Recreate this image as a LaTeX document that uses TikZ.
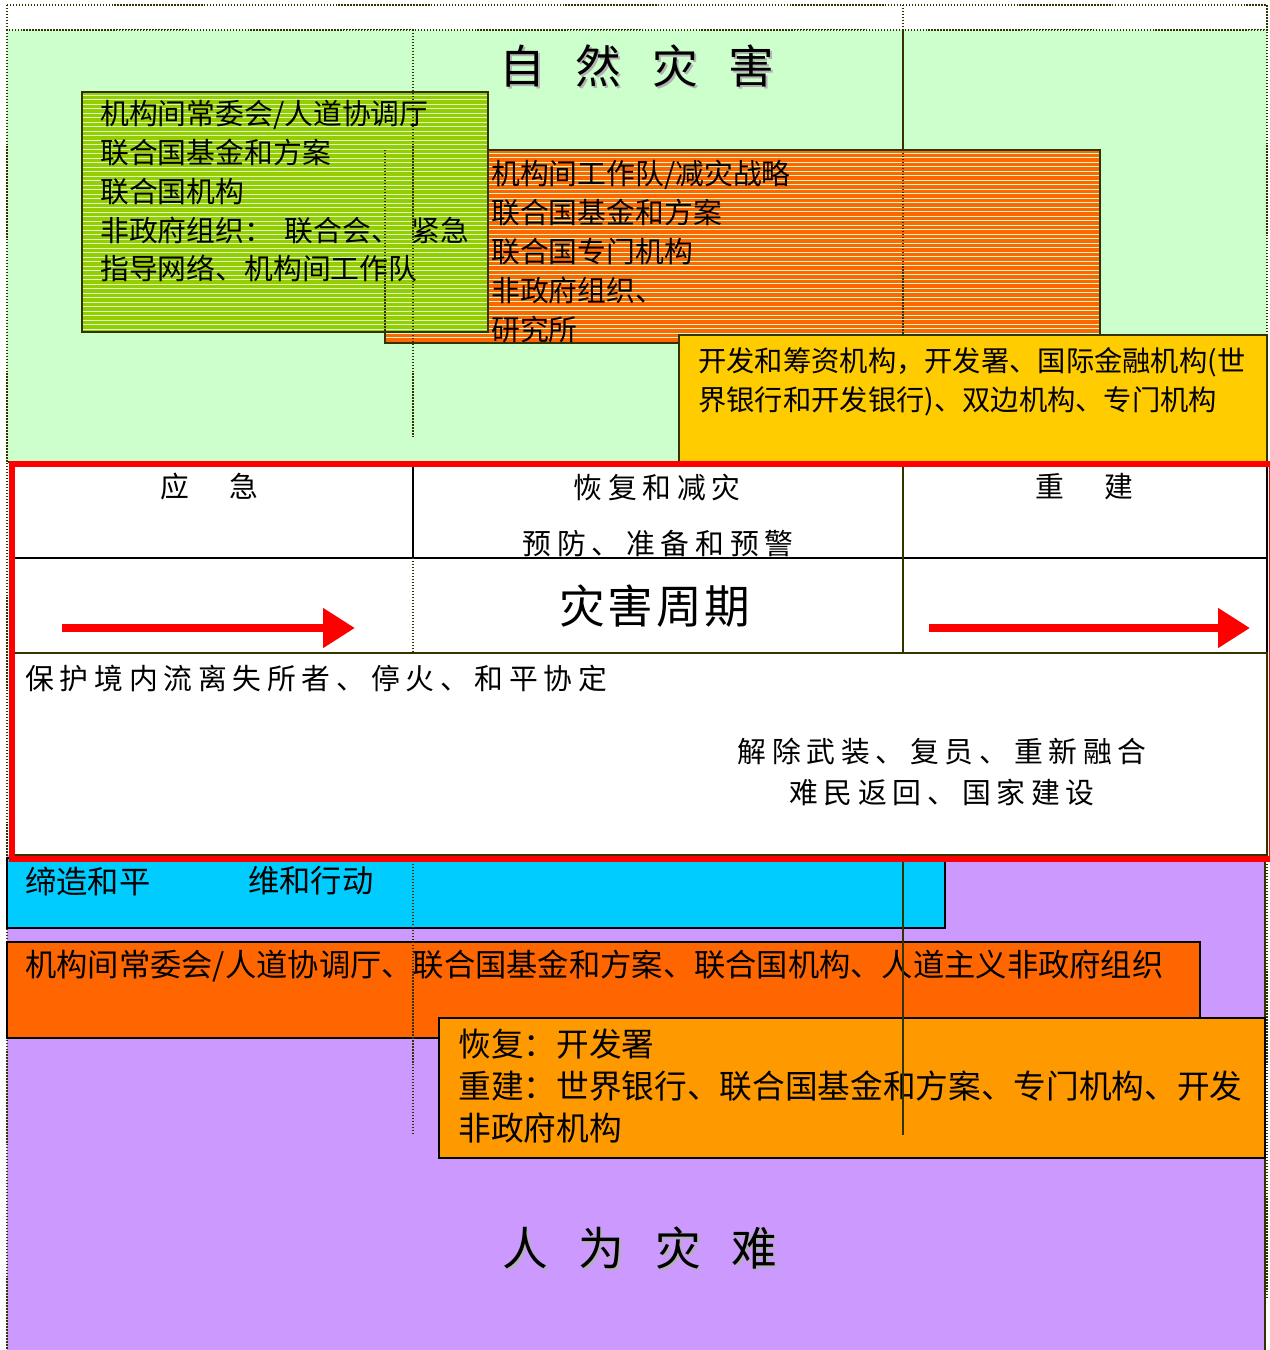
\documentclass[tikz,border=0pt]{standalone}
\usepackage{fontspec}
\setmainfont{Noto Sans CJK SC}
\newfontfamily\cjk{Noto Sans CJK SC}
\newfontfamily\cjkwide{Noto Sans CJK SC}[LetterSpace=20]
\newfontfamily\cjkmid{Noto Sans CJK SC}[LetterSpace=6]
\newfontfamily\cjktitle{Noto Sans CJK SC}[LetterSpace=45]
\usetikzlibrary{arrows.meta}

\definecolor{natgreen}{HTML}{CCFFCC}
\definecolor{limegreen}{HTML}{99CC00}
\definecolor{deeporange}{HTML}{FF6600}
\definecolor{goldyellow}{HTML}{FFCC00}
\definecolor{skycyan}{HTML}{00CCFF}
\definecolor{lilac}{HTML}{CC99FF}
\definecolor{amber}{HTML}{FF9900}
\definecolor{olive}{HTML}{333300}

\tikzset{
  dotline/.style={draw=olive, line width=0.7pt, dash pattern=on 0.8pt off 0.9pt},
  solidline/.style={draw=olive, line width=1pt},
  boxedge/.style={draw=olive, line width=1.2pt},
  stripe/.style={draw=natgreen, line width=0.5pt},
  txt/.style={inner sep=0pt, align=left, font=\cjk\fontsize{16.4}{22.1}\selectfont},
  bigtxt/.style={inner sep=0pt, align=left, font=\cjk\fontsize{17.8}{23.8}\selectfont},
  phase/.style={inner sep=0pt, font=\cjkwide\fontsize{16.4}{23.8}\selectfont},
  titletxt/.style={inner sep=0pt, font=\cjktitle\fontsize{26}{30}\selectfont},
  redarrow/.style={draw=red, line width=4.5pt, -{Triangle[length=6.4mm, width=7.6mm]}}
}

\begin{document}
\begin{tikzpicture}[x=0.02cm, y=-0.02cm]
\useasboundingbox (0,0) rectangle (1270,1350);

% fields
\draw[dotline] (7,5) rectangle (1267,30);
\fill[natgreen] (7,30) rectangle (1267,462);
\draw[dotline] (7,30) rectangle (1267,462);
\fill[lilac] (7,855) rectangle (1265,1350);
\draw[solidline] (1265,855) -- (1265,1350);
\draw[dotline] (7,30) -- (7,1350);
\draw[dotline] (1267,855) -- (1267,1300);
\draw[dotline] (903,5) -- (903,30);
\draw[solidline] (903,30) -- (903,150);

% natural disaster actors
\fill[deeporange] (385,150) rectangle (1100,343);
\foreach \y in {153,157.5,...,341}
  \draw[stripe] (386,\y) -- (1099,\y);
\draw[boxedge] (385,150) rectangle (1100,343);
\draw[dotline] (903,150) -- (903,343);

\fill[limegreen] (82,92) rectangle (488,332);
\foreach \y in {95,99.5,...,330}
  \draw[stripe] (83,\y) -- (487,\y);
\draw[boxedge] (82,92) rectangle (488,332);
\draw[dotline] (385,150) -- (385,332);
\draw[dotline] (413,30) -- (413,437);

\node[txt, anchor=north west] (iascNat) at (100,100)
  {机构间常委会/人道协调厅\\联合国基金和方案\\联合国机构\\非政府组织：\hspace{.4em}联合会、\hspace{.4em}紧急\\指导网络、机构间工作队};
\node[txt, anchor=north west] (isdr) at (491,160)
  {机构间工作队/减灾战略\\联合国基金和方案\\联合国专门机构\\非政府组织、\\研究所};

\filldraw[fill=goldyellow, boxedge] (679,335) rectangle (1267,462);
\node[txt, anchor=north west, font=\cjk\fontsize{16.1}{22.1}\selectfont] (devNat) at (698,347)
  {开发和筹资机构，开发署、国际金融机构(世\\界银行和开发银行)、双边机构、专门机构};

\node[titletxt, text=gray!60] at (639,68) {自 然 灾 害};
\node[titletxt] (natTitle) at (637,66) {自 然 灾 害};

% disaster cycle table
\filldraw[fill=white, draw=black, line width=1pt] (12,466) rectangle (1267,653);
\draw[black, line width=1pt] (12,558) -- (1267,558);
\draw[black, line width=1pt] (413,466) -- (413,558);
\draw[dotline] (413,558) -- (413,653);
\draw[solidline] (903,466) -- (903,653);
\filldraw[fill=white, boxedge] (12,653) rectangle (1267,855);

\node[phase] (relief) at (209,487) {应　急};
\node[phase] (recovery) at (657,487) {恢复和减灾};
\node[phase] (prevent) at (658,544) {预防、准备和预警};
\node[phase] (rebuild) at (1084,487) {重　建};
\node[inner sep=0pt, font=\cjkmid\fontsize{26}{30}\selectfont] (cycle) at (655,606) {灾害周期};

\coordinate (reliefStart) at (62,628);
\coordinate (reliefEnd) at (355,628);
\coordinate (rebuildStart) at (929,628);
\coordinate (rebuildEnd) at (1250,628);
\draw[redarrow] (reliefStart) -- (reliefEnd);
\draw[redarrow] (rebuildStart) -- (rebuildEnd);

\node[phase, anchor=west] (protect) at (25,678) {保护境内流离失所者、停火、和平协定};
\node[phase, align=center] (ddr) at (942,772) {解除武装、复员、重新融合\\难民返回、国家建设};

% man-made disaster actors
\filldraw[fill=skycyan, draw=black, line width=1pt] (7,858) rectangle (945,928);
\node[bigtxt, anchor=west] (peacemake) at (25,881) {缔造和平};
\node[bigtxt, anchor=west] (peacekeep) at (248,881) {维和行动};

\filldraw[fill=deeporange, draw=black, line width=1pt] (7,942) rectangle (1200,1038);
\node[bigtxt, anchor=west] (iascMan) at (25,966)
  {机构间常委会/人道协调厅、联合国基金和方案、联合国机构、人道主义非政府组织};

\filldraw[fill=amber, draw=black, line width=1.3pt] (439,1018) rectangle (1265,1158);
\node[bigtxt, anchor=north west, font=\cjk\fontsize{18.6}{23.8}\selectfont] (devMan) at (458,1029)
  {恢复：开发署\\重建：世界银行、联合国基金和方案、专门机构、开发\\非政府机构};

\draw[solidline] (903,855) -- (903,1135);
\draw[dotline] (413,855) -- (413,1135);

\draw[red, line width=3.6pt] (12,464) rectangle (1272,859);

\node[titletxt, text=gray!60] at (642,1250) {人 为 灾 难};
\node[titletxt] (manTitle) at (640,1248) {人 为 灾 难};
\end{tikzpicture}
\end{document}
